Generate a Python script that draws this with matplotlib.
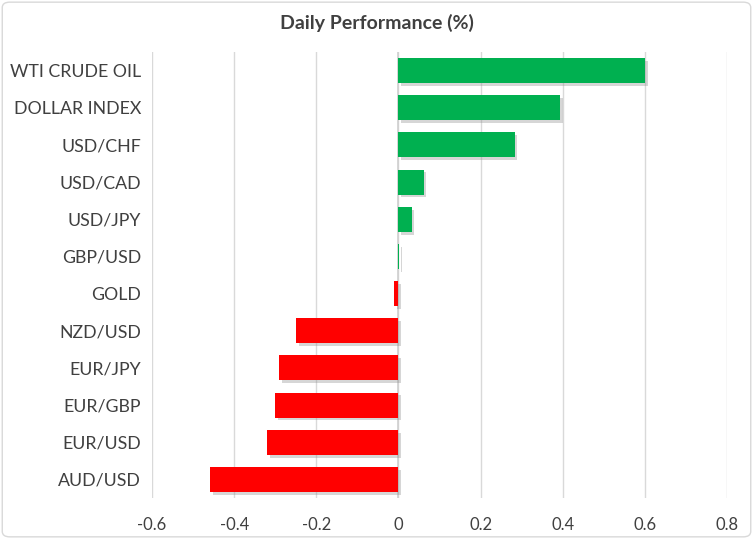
import matplotlib
matplotlib.use("Agg")
import matplotlib.pyplot as plt
import matplotlib.patheffects as pe
from matplotlib.patches import FancyBboxPatch

labels = ["WTI CRUDE OIL", "DOLLAR INDEX", "USD/CHF", "USD/CAD", "USD/JPY", "GBP/USD",
          "GOLD", "NZD/USD", "EUR/JPY", "EUR/GBP", "EUR/USD", "AUD/USD"]
values = [0.601, 0.393, 0.283, 0.061, 0.032, 0.001,
          -0.010, -0.249, -0.290, -0.300, -0.320, -0.459]
xticks = [-0.6, -0.4, -0.2, 0, 0.2, 0.4, 0.6, 0.8]
xticklabels = ["-0.6", "-0.4", "-0.2", "0", "0.2", "0.4", "0.6", "0.8"]

plt.rcParams['font.family'] = ['Lato', 'DejaVu Sans']

fig = plt.figure(figsize=(7.53, 5.39), dpi=100)
ax = fig.add_axes([0.2019, 0.076, 0.7636, 0.8275])

colors = ['#00B050' if v >= 0 else '#FF0000' for v in values]
pos = list(range(len(labels)))
bars = ax.barh(pos, values, height=0.67, color=colors, zorder=3)
shadow = [pe.SimplePatchShadow(offset=(2, -2), shadow_rgbFace='#8c8c8c', alpha=0.35), pe.Normal()]
for b in bars:
    b.set_path_effects(shadow)

ax.set_xlim(-0.6, 0.8)
ax.set_ylim(len(labels) - 0.5, -0.5)
ax.set_xticks(xticks)
ax.set_xticklabels(xticklabels)
ax.set_yticks(pos)
ax.set_yticklabels(labels)
ax.grid(axis='x', color='#d9d9d9', linewidth=1, zorder=0)
ax.axvline(0, color='#d0d0d0', linewidth=1.2, zorder=2)
for s in ax.spines.values():
    s.set_visible(False)
ax.tick_params(length=0, labelcolor='#404040')
ax.tick_params(axis='x', pad=14, labelsize=12)
ax.tick_params(axis='y', pad=8, labelsize=12.8)

fig.text(0.5, 0.958, "Daily Performance (%)", ha='center', va='center',
         fontsize=14, fontweight='bold', color='#404040')

border = FancyBboxPatch((0.003, 0.004), 0.994, 0.992, boxstyle="round,pad=0,rounding_size=0.01",
                        transform=fig.transFigure, fill=False, edgecolor='#d9d9d9', linewidth=1)
fig.patches.append(border)

fig.savefig("out.png", dpi=100)
